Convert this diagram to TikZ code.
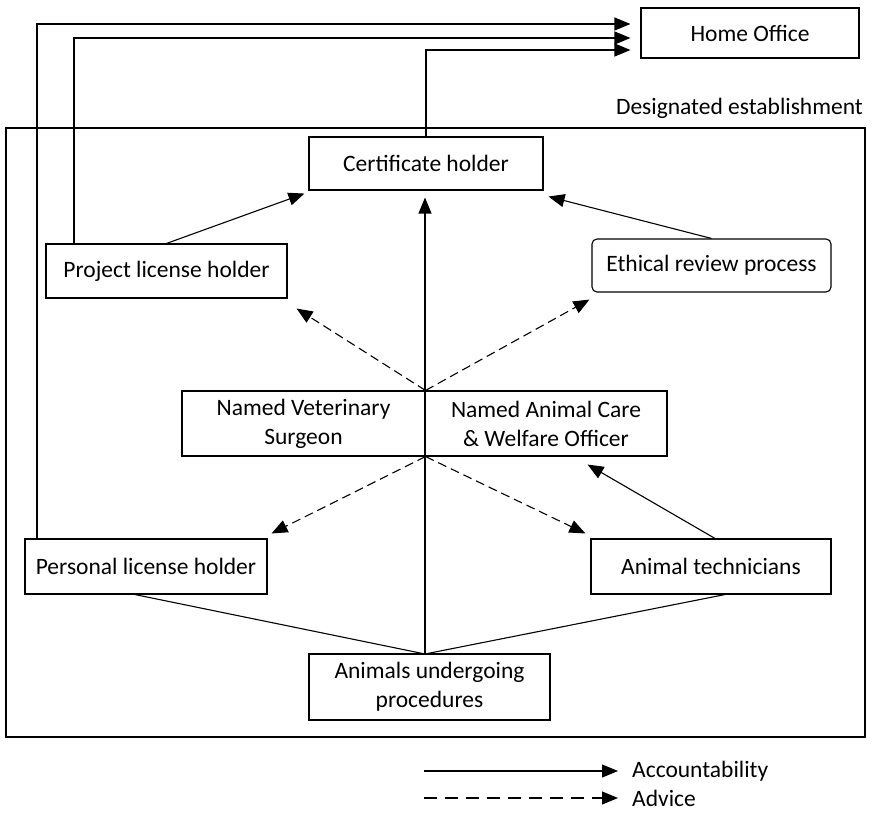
\documentclass[tikz,border=0pt]{standalone}
\usepackage{fontspec}
\setmainfont{Carlito}
\usetikzlibrary{arrows.meta,calc}
\begin{document}
\begin{tikzpicture}[x=1pt,y=-1pt,
  every node/.style={font=\fontsize{23.5}{29}\selectfont, inner sep=0pt},
  box/.style={draw, line width=1.1pt, align=center},
  ln/.style={line width=1.1pt},
  acc/.style={ln, -{Triangle[length=16pt,width=13pt]}},
  adv/.style={acc, dash pattern=on 9pt off 5pt}]
\useasboundingbox (0,0) rectangle (873,813);

\node[draw, line width=1.1pt, minimum width=859pt, minimum height=609pt] (est) at (435.5,432.5) {};
\node[anchor=base east] (desig) at (863,115) {Designated establishment};

\node[box, minimum width=218pt, minimum height=50pt] (home) at (750,33) {Home Office};
\node[box, minimum width=234pt, minimum height=53pt] (cert) at (426,163.5) {Certificate holder};
\node[box, minimum width=241pt, minimum height=54pt] (proj) at (166.5,271) {Project license holder};
\node[box, rounded corners=5pt, minimum width=239pt, minimum height=53pt] (eth) at (711.5,265.5) {Ethical review process};
\node[box, minimum width=243pt, minimum height=65pt] (nvsL) at (303.5,423.5) {Named Veterinary\\Surgeon};
\node[box, minimum width=242pt, minimum height=65pt] (nvsR) at (546,423.5) {Named Animal Care\\\& Welfare Officer};
\node[box, minimum width=242pt, minimum height=55pt] (pers) at (146,566.5) {Personal license holder};
\node[box, minimum width=240pt, minimum height=55pt] (tech) at (711,566.5) {Animal technicians};
\node[box, minimum width=241pt, minimum height=66pt] (anim) at (429.5,687) {Animals undergoing\\procedures};

\coordinate (t1) at (37,24);
\coordinate (t2) at (74,38);
\coordinate (t3) at (426,50);
\coordinate (hub) at (425,654);

\draw[acc, shorten >=10pt] (t1 |- pers.north) -- (t1) -- (t1 -| home.west);
\draw[acc, shorten >=10pt] (t2 |- proj.north) -- (t2) -- (t2 -| home.west);
\draw[acc, shorten >=10pt] (cert.north) -- (t3) -- (t3 -| home.west);

\draw[acc] (proj.north) -- ([shift={(-4,3)}]cert.south west);
\draw[acc] (eth.north) -- ([shift={(5,6)}]cert.south east);
\draw[acc, shorten >=7pt] (hub) -- (hub |- cert.south);

\draw[adv] (nvsL.north east) -- ([shift={(9,10)}]proj.south east);
\draw[adv] (nvsL.north east) -- ([shift={(-2,7)}]eth.south west);
\draw[adv] (nvsL.south east) -- ([shift={(4,-5)}]pers.north east);
\draw[adv] (nvsL.south east) -- ([shift={(-5,-5)}]tech.north west);
\draw[acc] ([xshift=4pt]tech.north) -- ([shift={(-80,8)}]nvsR.south east);

\draw[ln] ([xshift=-11pt]pers.south) -- (hub);
\draw[ln] ([xshift=14pt]tech.south) -- (hub);

\node[anchor=west] (lacc) at (632,771) {Accountability};
\node[anchor=west] (ladv) at (632,798) {Advice};
\coordinate (la) at (424,771);
\coordinate (lb) at (424,798);
\draw[acc, shorten >=14pt] (la) -- (lacc.west);
\draw[acc, dash pattern=on 13pt off 8pt, shorten >=14pt] (lb) -- (ladv.west);
\end{tikzpicture}
\end{document}
